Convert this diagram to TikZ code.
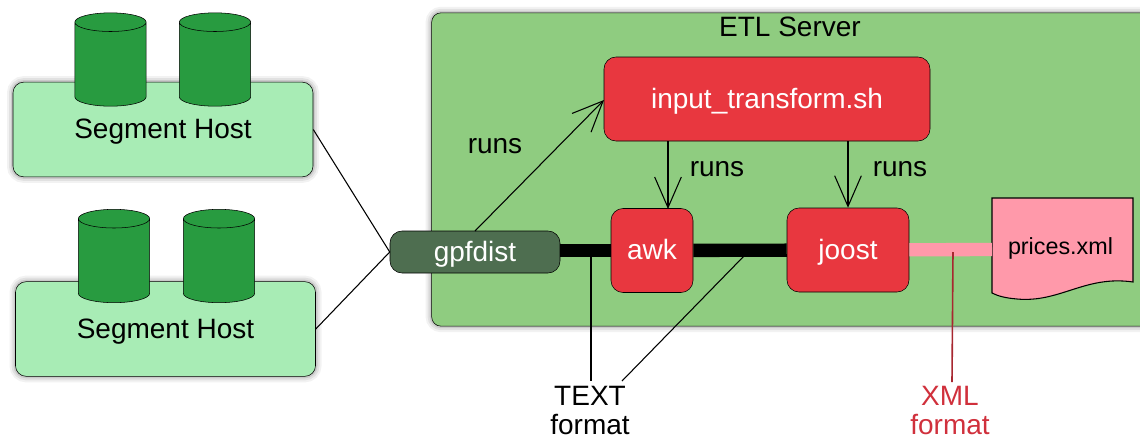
\documentclass[tikz,border=0pt]{standalone}
\usepackage{fontspec}
\setmainfont{Liberation Sans}
\usetikzlibrary{shapes.geometric,arrows.meta}
\definecolor{c1}{HTML}{A8ECB5}
\definecolor{c2}{HTML}{289B40}
\definecolor{c3}{HTML}{8FCC80}
\definecolor{c4}{HTML}{E8373F}
\definecolor{c5}{HTML}{4E6E50}
\definecolor{c6}{HTML}{FF99AA}
\definecolor{c7}{HTML}{D0303C}
\tikzset{
    softshadow/.style={
        preaction={draw=black, draw opacity=.05, line width=9pt},
        preaction={draw=black, draw opacity=.07, line width=6pt},
        preaction={draw=black, draw opacity=.10, line width=3pt}},
    bigtext/.style={font=\fontsize{21}{25}\selectfont, inner sep=0pt, text height=16pt, text depth=2pt},
    hostbox/.style={bigtext, draw, fill=c1, rounded corners=8pt, minimum width=225pt, minimum height=71pt, softshadow},
    disk/.style={draw, fill=c2, cylinder, shape border rotate=90, aspect=1.4, inner sep=5pt, minimum width=53.5pt, minimum height=70pt, anchor=shape center},
    proc/.style={bigtext, draw, fill=c4, text=white, rounded corners=9pt, minimum height=63pt},
    runsarrow/.style={-{Straight Barb[length=23pt,width=20pt]}, line width=.8pt},
    pointer/.style={line width=.8pt}
}
\begin{document}
\begin{tikzpicture}[x=0.75pt,y=-0.75pt]
        \useasboundingbox (0,0) rectangle (1140,440);
        \node [draw, fill=c3, rounded corners=7pt, minimum width=539pt, minimum height=235pt, inner sep=0pt, softshadow] (etl) at (791,169.5) {};
        \node [bigtext] (etltitle) at (790,27) {ETL Server};
        % hosts
        \node [hostbox] (host1) at (163,129.5) {Segment Host};
        \node [hostbox] (host2) at (165.5,329) {Segment Host};
        \node [disk] (disk1) at (110.5,59.5) {};
        \node [disk] (disk2) at (215,59.5) {};
        \node [disk] (disk3) at (114,256) {};
        \node [disk] (disk4) at (219,256) {};
        % processes
        \node [bigtext, draw, fill=c5, text=white, rounded corners=9pt, minimum width=127.5pt, minimum height=31.5pt] (gpfdist) at (475,252) {gpfdist};
        \node [proc, minimum width=244.5pt] (input) at (767,99) {input\_transform.sh};
        \node [proc, minimum width=61.5pt] (awk) at (652,250.5) {awk};
        \node [proc, minimum width=91.5pt] (joost) at (848,250) {joost};
        % file
        \draw [fill=c6, line width=.8pt] (992,198) -- (1133,198) -- (1133,282) .. controls (1085,275) and (1060,303) .. (1017,299) .. controls (1005,298) and (998,296) .. (992,293) -- cycle;
        \node [font=\fontsize{17.5}{21}\selectfont, inner sep=0pt] (prices) at (1060.5,248) {prices.xml};
        \coordinate (pricesw) at (992,249.5);
        % wires
        \draw [line width=10pt] (gpfdist.east |- awk) -- (awk);
        \draw [line width=10pt] (awk) -- (joost);
        \draw [line width=10pt, c6] (joost) -- (pricesw);
        \draw [pointer] (host1.east) -- (gpfdist.west);
        \draw [pointer] (host2.east) -- (gpfdist.west);
        % runs
        \coordinate (gpfdisttop) at (475,231);
        \coordinate (inputleft) at (604,100);
        \coordinate (inputawk) at (668,141);
        \coordinate (awktop) at (668,209);
        \draw [runsarrow] (gpfdisttop) -- (inputleft);
        \draw [runsarrow] (inputawk) -- (awktop);
        \draw [runsarrow] (input.south -| joost.north) -- (joost.north);
        \node [bigtext] (runs1) at (495,144) {runs};
        \node [bigtext] (runs2) at (717,167) {runs};
        \node [bigtext] (runs3) at (900,167) {runs};
        % formats
        \node [bigtext] (texttitle) at (590,396) {TEXT};
        \node [bigtext, text depth=0pt] (textfmt) at (590,424) {format};
        \node [bigtext, text=c7] (xmltitle) at (950,396) {XML};
        \node [bigtext, text depth=0pt, text=c7] (xmlfmt) at (950,424) {format};
        \coordinate (wire1) at (591,256);
        \coordinate (wire2) at (744,256);
        \coordinate (wire3) at (953,252);
        \draw [pointer] (wire1) -- (591,381);
        \draw [pointer] (wire2) -- (622,381);
        \draw [c7!80!black, line width=1.2pt] (wire3) -- (952,382);
    \end{tikzpicture}
\end{document}
